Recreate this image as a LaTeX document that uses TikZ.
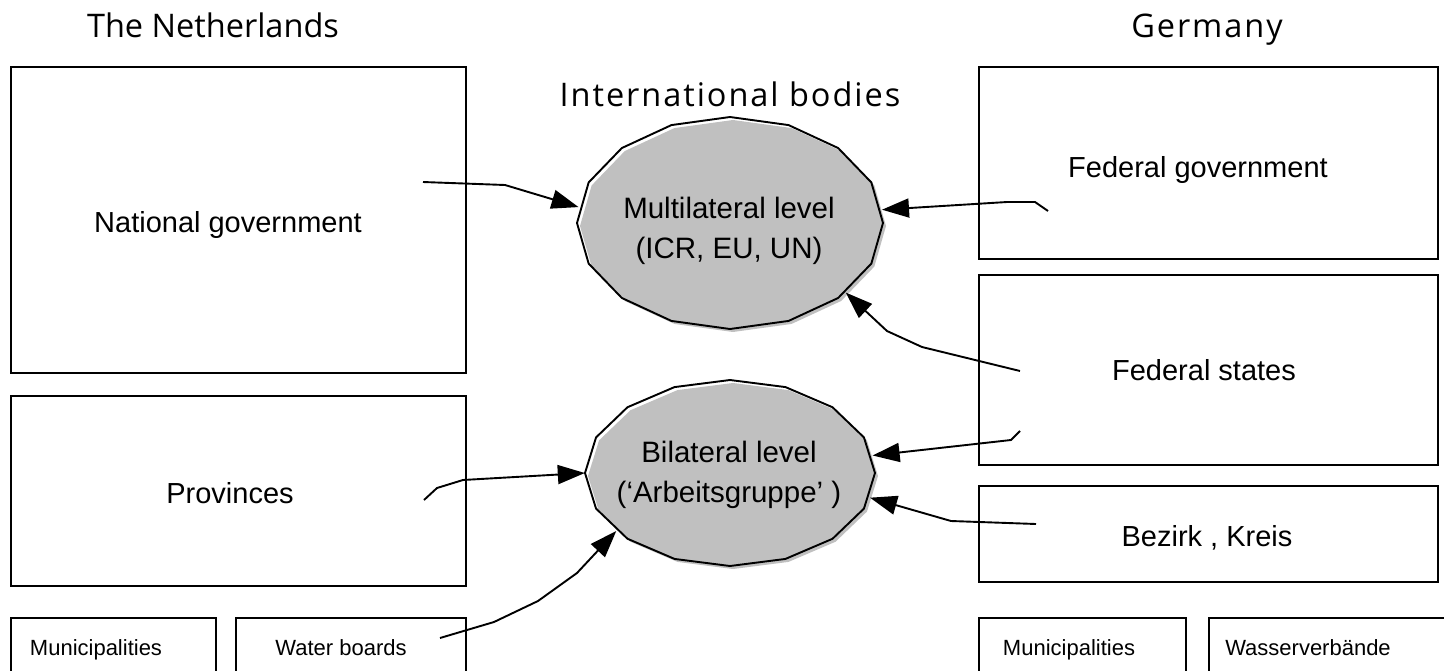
\documentclass[tikz,border=0pt]{standalone}
\usepackage{fontspec}
\setmainfont{Liberation Sans}
\newfontfamily\headfont{Open Sans}
\usetikzlibrary{arrows.meta,shapes.geometric}
\definecolor{ellgray}{HTML}{C0C0C0}
\begin{document}
\begin{tikzpicture}[x=1pt,y=-1pt,
  box/.style={draw, line width=1.9pt, inner sep=0pt, anchor=north west},
  head/.style={font=\headfont\fontsize{32.5}{36}\selectfont, anchor=base, inner sep=0pt},
  lab/.style={font=\fontsize{29}{39}\selectfont, anchor=base, inner sep=0pt},
  smalllab/.style={font=\fontsize{22}{26}\selectfont, anchor=base, inner sep=0pt},
  elltext/.style={font=\fontsize{29.5}{40}\selectfont, align=center, inner sep=0pt},
  ellnode/.style={ellipse, inner sep=0pt},
  ellline/.style={line width=1.9pt, line join=round},
  conn/.style={line width=1.9pt, line join=round, -{Triangle[length=27pt,width=19pt]}}]
\clip (0,0) rectangle (1444,670);
\fill[white] (0,0) rectangle (1444,670);

% headings
\node[head] (nl) at (213,37) {The Netherlands};
\node[head] (de) at (1207,37) {\addfontfeature{LetterSpace=6}Germany};
\node[head] (intl) at (730,106) {\addfontfeature{LetterSpace=6}International bodies};

% Netherlands boxes
\node[box, minimum width=455pt, minimum height=306pt] (natgov) at (10,66) {};
\node[box, minimum width=455pt, minimum height=190pt] (prov) at (10,395) {};
\node[box, minimum width=205pt, minimum height=80pt] (nlmun) at (10,617) {};
\node[box, minimum width=230pt, minimum height=80pt] (wb) at (235,617) {};

% Germany boxes
\node[box, minimum width=459pt, minimum height=192pt] (fedgov) at (978,66) {};
\node[box, minimum width=459pt, minimum height=190pt] (fedst) at (978,274) {};
\node[box, minimum width=459pt, minimum height=96pt] (bez) at (978,485) {};
\node[box, minimum width=207pt, minimum height=80pt] (demun) at (978,617) {};
\node[box, minimum width=250pt, minimum height=80pt] (wv) at (1208,617) {};

% labels
\node[lab] (t-natgov) at (228,232) {National government};
\node[lab] (t-prov) at (230,503) {Provinces};
\node[smalllab] (t-nlmun) at (96,655) {Municipalities};
\node[smalllab] (t-wb) at (341,655) {Water boards};
\node[lab] (t-fedgov) at (1198,177) {Federal government};
\node[lab] (t-fedst) at (1204,380) {Federal states};
\node[lab] (t-bez) at (1207,546) {Bezirk , Kreis};
\node[smalllab] (t-demun) at (1069,655) {Municipalities};
\node[smalllab] (t-wv) at (1308,655) {Wasserverbände};

% polygonal ellipses
\fill[ellgray, shift={(3,3)}] plot[samples=17, domain=0:360, variable=\t] ({730+153*cos(\t)},{223+106*sin(\t)}) -- cycle;
\draw[ellline] plot[samples=17, domain=0:360, variable=\t] ({730+153*cos(\t)},{223+106*sin(\t)}) -- cycle;
\fill[ellgray, shift={(3,3)}] plot[samples=17, domain=0:360, variable=\t] ({730+145*cos(\t)},{473+93*sin(\t)}) -- cycle;
\draw[ellline] plot[samples=17, domain=0:360, variable=\t] ({730+145*cos(\t)},{473+93*sin(\t)}) -- cycle;

\node[ellnode, minimum width=306pt, minimum height=212pt] (multi) at (730,223) {};
\node[ellnode, minimum width=290pt, minimum height=186pt] (bila) at (730,473) {};
\node[elltext] (t-multi) at (729,231) {Multilateral level\\(ICR, EU, UN)};
\node[elltext] (t-bila) at (729,475) {Bilateral level\\(‘Arbeitsgruppe’ )};

% connector start points
\coordinate (s1) at (423,182);
\coordinate (s2) at (1048,211);
\coordinate (s3) at (1020,371);
\coordinate (s4) at (1020,431);
\coordinate (s5) at (1036,524);
\coordinate (s6) at (424,500);
\coordinate (s7) at (440,638);

% connectors
\draw[conn] (s1) -- (505,185) -- (multi.174);
\draw[conn] (s2) -- (1035,202) -- (1007,202) -- (multi.5);
\draw[conn] (s3) -- (922,347) -- (887,331) -- (multi.329);
\draw[conn] (s4) -- (1011,440) -- (bila.7);
\draw[conn] (s5) -- (951,521) -- (bila.350);
\draw[conn] (s6) -- (437,488) -- (463,480) -- (bila.180);
\draw[conn] (s7) -- (494,622) -- (538,601) -- (577,573) -- (bila.207);
\end{tikzpicture}
\end{document}
